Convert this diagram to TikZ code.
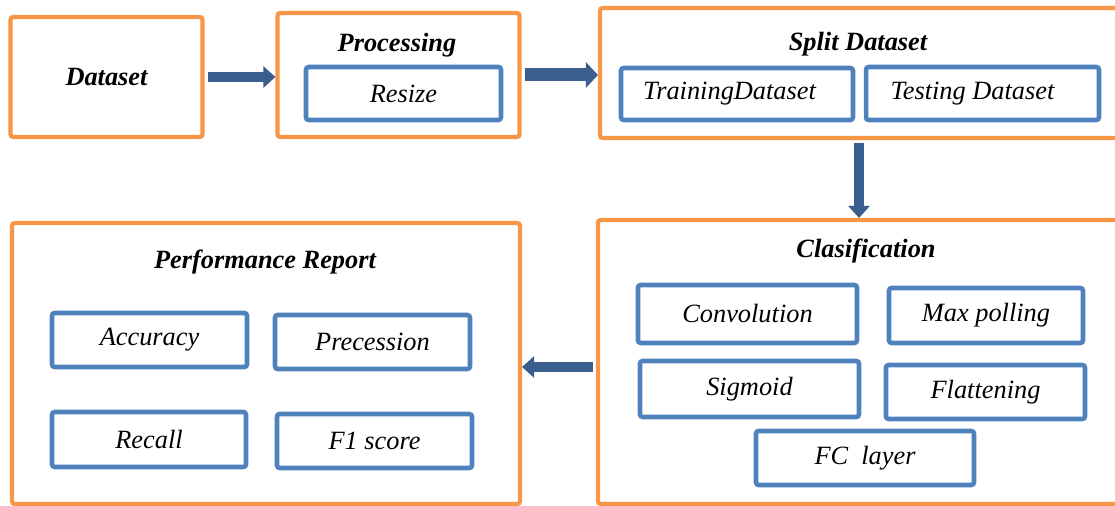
\documentclass[tikz,border=0pt]{standalone}
\usepackage{fontspec}
\setmainfont{Liberation Serif}
\usetikzlibrary{arrows.meta, positioning}
\definecolor{boxorange}{HTML}{F79646}
\definecolor{boxblue}{HTML}{4F81BD}
\definecolor{arrowblue}{HTML}{3A5E8D}
\tikzset{
  outerbox/.style={draw=boxorange, line width=2.4pt, rounded corners=1.5pt, inner sep=0pt,
    font=\fontsize{15}{18}\selectfont\bfseries\itshape},
  innerbox/.style={draw=boxblue, line width=2.6pt, rounded corners=1.5pt, inner sep=0pt,
    font=\fontsize{15}{18}\selectfont\itshape},
  boxtitle/.style={inner sep=0pt, font=\fontsize{15}{18}\selectfont\bfseries\itshape},
  blockarr/.style={draw=arrowblue, line width=0.2cm,
    -{Triangle[length=0.24cm, width=0.42cm]}, shorten <=0.06cm}
}
\begin{document}
\begin{tikzpicture}[x=0.02cm, y=-0.02cm]
      \useasboundingbox (0,0) rectangle (1115,506);
      % top row
      \node[outerbox, minimum width=3.84cm, minimum height=2.4cm] (dataset) at (106.5,77) {Dataset};
      \node[outerbox, minimum width=4.84cm, minimum height=2.48cm] (proc) at (398.5,75) {};
      \node[outerbox, minimum width=10.36cm, minimum height=2.6cm] (split) at (859,73) {};
      \node[boxtitle] (proctitle) at (397,45.5) {Processing};
      \node[boxtitle] (splittitle) at (858,44) {Split Dataset};
      \node[innerbox, minimum width=3.9cm, minimum height=1.06cm] (resize) at (403.5,93.5) {Resize};
      \node[innerbox, minimum width=4.64cm, minimum height=1.04cm] (train) at (737,94) {\hspace*{-0.3cm}\raisebox{-0.06cm}{TrainingDataset}};
      \node[innerbox, minimum width=4.66cm, minimum height=1.06cm] (test) at (982.5,93.5) {\hspace*{-0.4cm}\raisebox{-0.06cm}{Testing Dataset}};
      % bottom row
      \node[outerbox, minimum width=10.44cm, minimum height=5.68cm] (clsf) at (859,362) {};
      \node[outerbox, minimum width=10.16cm, minimum height=5.62cm] (perf) at (266,363.5) {};
      \node[boxtitle] (clsftitle) at (866,251) {Clasification};
      \node[boxtitle] (perftitle) at (265,262) {Performance Report};
      \node[innerbox, minimum width=4.38cm, minimum height=1.16cm] (conv) at (747.5,314) {Convolution};
      \node[innerbox, minimum width=3.88cm, minimum height=1.1cm] (maxpool) at (986,315.5) {Max polling};
      \node[innerbox, minimum width=4.38cm, minimum height=1.12cm] (sigm) at (749.5,389) {Sigmoid};
      \node[innerbox, minimum width=3.98cm, minimum height=1.08cm] (flat) at (985.5,392) {Flattening};
      \node[innerbox, minimum width=4.36cm, minimum height=1.08cm] (fc) at (865,458) {FC~ layer};
      \node[innerbox, minimum width=3.9cm, minimum height=1.08cm] (acc) at (149.5,340) {Accuracy};
      \node[innerbox, minimum width=3.9cm, minimum height=1.08cm] (prec) at (372.5,342) {Precession};
      \node[innerbox, minimum width=3.88cm, minimum height=1.1cm] (rec) at (149,439.5) {Recall};
      \node[innerbox, minimum width=3.9cm, minimum height=1.08cm] (fone) at (374.5,441) {F1 score};
      % arrows
      \draw[blockarr] (dataset.east) -- (dataset.east -| proc.west);
      \draw[blockarr, line width=0.26cm, -{Triangle[length=0.24cm, width=0.5cm]}] (proc.east) -- (proc.east -| split.west);
      \draw[blockarr] (split.south) -- (split.south |- clsf.north);
      \draw[blockarr] ([yshift=-0.1cm]clsf.west) -- ([yshift=-0.1cm]clsf.west -| perf.east);
    \end{tikzpicture}
\end{document}
